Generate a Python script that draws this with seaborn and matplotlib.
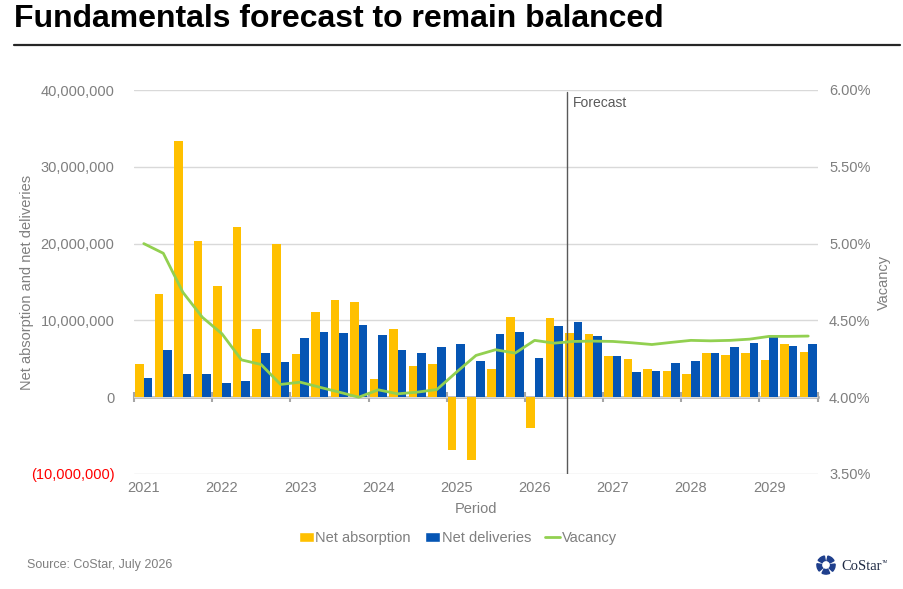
import matplotlib
matplotlib.use("Agg")
import matplotlib.pyplot as plt
import matplotlib.patches as patches
from matplotlib.ticker import FuncFormatter, MultipleLocator
from matplotlib.lines import Line2D
import numpy as np
import pandas as pd
import seaborn as sns

# quarterly data, 2021 Q1 .. 2029 Q3
years = [2021, 2022, 2023, 2024, 2025, 2026, 2027, 2028, 2029]
quarters = [f"{y}Q{q}" for y in years for q in range(1, 5)][:35]

net_absorption = [
    4.35e6, 13.4e6, 33.3e6, 20.4e6,
    14.5e6, 22.1e6, 8.87e6, 20.0e6,
    5.57e6, 11.1e6, 12.7e6, 12.4e6,
    2.35e6, 8.87e6, 4.09e6, 4.35e6,
    -6.83e6, -8.13e6, 3.65e6, 10.4e6,
    -4.04e6, 10.35e6, 8.3e6, 8.17e6,
    5.39e6, 4.96e6, 3.65e6, 3.35e6,
    3.04e6, 5.74e6, 5.48e6, 5.74e6,
    4.78e6, 6.87e6, 5.83e6,
]
net_deliveries = [
    2.48e6, 6.17e6, 3.04e6, 3.04e6,
    1.83e6, 2.09e6, 5.74e6, 4.52e6,
    7.74e6, 8.52e6, 8.35e6, 9.35e6,
    8.04e6, 6.17e6, 5.74e6, 6.52e6,
    6.96e6, 4.65e6, 8.17e6, 8.43e6,
    5.13e6, 9.26e6, 9.74e6, 8.0e6,
    5.39e6, 3.22e6, 3.39e6, 4.43e6,
    4.65e6, 5.74e6, 6.52e6, 7.04e6,
    7.78e6, 6.65e6, 6.96e6,
]
vacancy = [
    5.00, 4.937, 4.683, 4.52,
    4.413, 4.243, 4.213, 4.083,
    4.098, 4.065, 4.033, 4.00,
    4.048, 4.022, 4.033, 4.05,
    4.163, 4.272, 4.309, 4.287,
    4.37, 4.352, 4.363, 4.365,
    4.363, 4.354, 4.343, 4.357,
    4.37, 4.367, 4.37, 4.378,
    4.396, 4.396, 4.398,
]
forecast_start = 21.65  # position of the forecast divider (quarter index)

yellow = "#FFC000"
blue = "#0555B4"
green = "#92D050"
gray_txt = "#7F7F7F"

df = pd.DataFrame({
    "quarter": quarters * 2,
    "value": net_absorption + net_deliveries,
    "series": ["Net absorption"] * len(quarters) + ["Net deliveries"] * len(quarters),
})

sns.set_style("white")
plt.rcParams["font.family"] = ["Liberation Sans", "DejaVu Sans"]

fig = plt.figure(figsize=(9.04, 5.89), dpi=100)
ax = fig.add_axes([134 / 904, 1 - 474 / 589, 684 / 904, 384 / 589])

sns.barplot(data=df, x="quarter", y="value", hue="series", order=quarters,
            palette=[yellow, blue], width=0.88, gap=0, ax=ax, legend=False,
            saturation=1, edgecolor="none", linewidth=0)

ax.set_xlim(-0.5, len(quarters) - 0.5)
ax.set_ylim(-10e6, 40e6)
ax.yaxis.set_major_locator(MultipleLocator(10e6))
ax.yaxis.grid(True, color="#D9D9D9", linewidth=1)
ax.set_axisbelow(True)
for s in ax.spines.values():
    s.set_visible(False)


def fmt_left(v, pos):
    if v < 0:
        return f"({abs(v):,.0f})"
    return f"{v:,.0f}"


ax.yaxis.set_major_formatter(FuncFormatter(fmt_left))
ax.tick_params(axis="y", length=0, pad=14, labelsize=10.5, labelcolor=gray_txt)
for lbl in ax.get_yticklabels():
    if lbl.get_text().startswith("("):
        lbl.set_color("red")

ax.set_xticks([quarters.index(f"{y}Q1") for y in years])
ax.set_xticklabels([str(y) for y in years])
ax.tick_params(axis="x", length=0, pad=5, labelsize=10.5, labelcolor=gray_txt)
ax.set_xlabel("Period", color=gray_txt, fontsize=10.5, labelpad=5)
ax.set_ylabel("Net absorption and net deliveries", color=gray_txt, fontsize=10.5)
ax.yaxis.set_label_coords((34 - 134) / 684, 0.5)

# axis line through zero with year-boundary ticks
zero_frac = (0 - ax.get_ylim()[0]) / (ax.get_ylim()[1] - ax.get_ylim()[0])
sec = ax.secondary_xaxis(zero_frac)
sec.set_xticks([quarters.index(f"{y}Q1") - 0.5 for y in years] + [len(quarters) - 0.5])
sec.set_xticklabels([])
sec.tick_params(axis="x", direction="inout", length=7, width=1.5, color="#A6A6A6")
sec.spines["bottom"].set_color("#A6A6A6")
sec.spines["bottom"].set_linewidth(1.8)
for k in ["top", "left", "right"]:
    sec.spines[k].set_visible(False)

# vacancy on secondary axis
ax2 = ax.twinx()
sns.lineplot(x=np.arange(len(quarters)), y=vacancy, ax=ax2, color=green, linewidth=2)
ax2.set_ylim(3.5, 6.0)
ax2.yaxis.set_major_locator(MultipleLocator(0.5))
ax2.yaxis.set_major_formatter(FuncFormatter(lambda v, p: f"{v:.2f}%"))
ax2.tick_params(axis="y", length=0, pad=8, labelsize=10.5, labelcolor=gray_txt)
ax2.set_ylabel("Vacancy", color=gray_txt, fontsize=10.5)
ax2.yaxis.set_label_coords((877 - 134) / 684, 0.5)
for s in ax2.spines.values():
    s.set_visible(False)

# forecast divider
ax.axvline(forecast_start, ymin=0, ymax=0.995, color="#595959", linewidth=1)
ax.text(forecast_start + 0.3, 0.965, "Forecast", transform=ax.get_xaxis_transform(),
        color="#595959", fontsize=10, ha="left", va="center")

# title and rule
fig.text(14 / 904, 1 - 19 / 589, "Fundamentals forecast to remain balanced",
         fontsize=23, fontweight="bold", color="black", ha="left", va="center")
fig.add_artist(Line2D([14 / 904, 900 / 904], [1 - 45 / 589] * 2, color="#262626", linewidth=1.6))

# legend
handles = [
    patches.Patch(facecolor=yellow, label="Net absorption"),
    patches.Patch(facecolor=blue, label="Net deliveries"),
    Line2D([0], [0], color=green, linewidth=2, label="Vacancy"),
]
fig.legend(handles=handles, loc="center", bbox_to_anchor=(458 / 904, 1 - 538 / 589),
           ncol=3, frameon=False, fontsize=10.5, labelcolor=gray_txt,
           handlelength=1.0, handleheight=0.7, handletextpad=0.1, columnspacing=1.0)

# source + logo
fig.text(27 / 904, 1 - 565 / 589, "Source: CoStar, July 2026", fontsize=9,
         color=gray_txt, ha="left", va="center")
fig.text(841 / 904, 1 - 566 / 589, "CoStar", fontsize=10.5, color="#1F2A44",
         family=["Liberation Serif", "DejaVu Serif"], ha="left", va="center")
fig.text(882 / 904, 1 - 562 / 589, "TM", fontsize=3, color="#1F2A44", ha="left", va="center")
lax = fig.add_axes([816 / 904, 1 - 575 / 589, 20 / 904, 20 / 589])
lax.set_aspect("equal")
for i in range(5):
    a0 = 90 + i * 72 + 10
    lax.add_patch(patches.Wedge((0, 0), 1.0, a0, a0 + 50, width=0.5, color="#1F3F8C"))
lax.set_xlim(-1.1, 1.1)
lax.set_ylim(-1.1, 1.1)
lax.axis("off")

fig.savefig("out.png", dpi=100)
